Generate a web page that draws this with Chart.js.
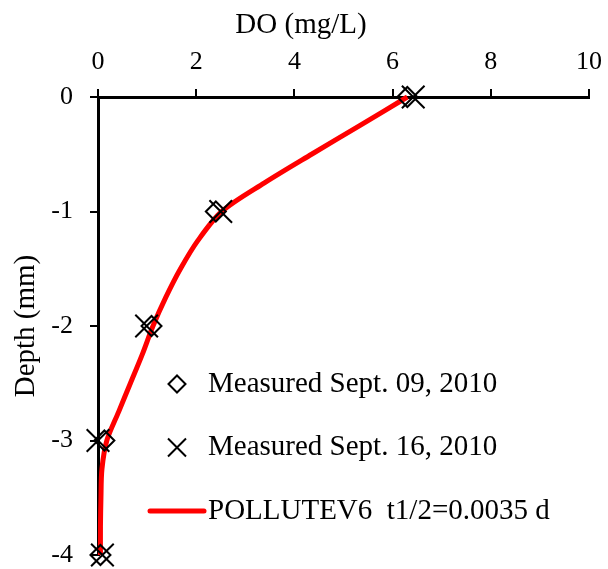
<!DOCTYPE html>
<html>
<head>
<meta charset="utf-8">
<script src="https://cdn.jsdelivr.net/npm/chart.js@4.4.1/dist/chart.umd.min.js"></script>
<style>
  html, body { margin: 0; padding: 0; background: #fff; }
  canvas { display: block; }
</style>
</head>
<body>
<canvas id="chart" width="608" height="569"></canvas>
<script>
// measured DO profiles (mg/L) against depth (mm)
const sep09Depth = [0, -1, -2, -3, -4];
const sep09DO = [6.3, 2.4, 1.09, 0.13, 0.05];
const sep16Depth = [0, -1, -2, -3, -4];
const sep16DO = [6.42, 2.5, 0.99, 0.0, 0.09];

// POLLUTEV6 model curve
const modelDepth = [0, -0.25, -0.5, -0.75, -1, -1.25, -1.5, -1.75, -2, -2.25, -2.5, -2.75, -3, -3.25, -3.5, -3.75, -4];
const modelDO = [6.3, 5.33, 4.35, 3.39, 2.52, 2.04, 1.68, 1.38, 1.12, 0.9, 0.66, 0.42, 0.18, 0.08, 0.06, 0.05, 0.05];

const labels = ["Measured Sept. 09, 2010", "Measured Sept. 16, 2010", "POLLUTEV6  t1/2=0.0035 d"];
const xTitle = "DO (mg/L)";
const yTitle = "Depth (mm)";

const toPoints = (xs, ys) => xs.map((x, i) => ({ x: x, y: ys[i] }));
const serif = '"Liberation Serif", "Times New Roman", serif';

// x axis title sits a bit left of the axis centre, so draw it here
const topTitle = {
  id: "topTitle",
  afterDraw(chart) {
    const ctx = chart.ctx;
    ctx.save();
    ctx.font = "29px " + serif;
    ctx.fillStyle = "#000";
    ctx.textAlign = "center";
    ctx.textBaseline = "middle";
    ctx.fillText(xTitle, 301, 25);
    ctx.restore();
  },
};

// legend drawn inside the plot, one entry per row
const inlineLegend = {
  id: "inlineLegend",
  afterDatasetsDraw(chart) {
    const ctx = chart.ctx;
    ctx.save();
    ctx.font = "29px " + serif;
    ctx.textBaseline = "middle";
    ctx.textAlign = "left";
    chart.data.datasets.forEach((ds, i) => {
      const y = 384 + i * 63.5;
      const mx = 177;
      ctx.strokeStyle = ds.borderColor;
      if (ds.pointStyle === "rectRot") {
        const r = 8.5;
        ctx.lineWidth = 2;
        ctx.beginPath();
        ctx.moveTo(mx - r, y);
        ctx.lineTo(mx, y - r);
        ctx.lineTo(mx + r, y);
        ctx.lineTo(mx, y + r);
        ctx.closePath();
        ctx.stroke();
      } else if (ds.pointStyle === "crossRot") {
        const h = 9;
        ctx.lineWidth = 2;
        ctx.beginPath();
        ctx.moveTo(mx - h, y - h);
        ctx.lineTo(mx + h, y + h);
        ctx.moveTo(mx + h, y - h);
        ctx.lineTo(mx - h, y + h);
        ctx.stroke();
      } else {
        ctx.lineWidth = 5;
        ctx.lineCap = "round";
        ctx.beginPath();
        ctx.moveTo(150, y);
        ctx.lineTo(204, y);
        ctx.stroke();
      }
      ctx.fillStyle = "#000";
      ctx.fillText(ds.label, 208, y);
    });
    ctx.restore();
  },
};

new Chart(document.getElementById("chart"), {
  type: "scatter",
  data: {
    datasets: [
      {
        label: labels[0],
        data: toPoints(sep09DO, sep09Depth),
        pointStyle: "rectRot",
        pointRadius: 10,
        pointBorderWidth: 2,
        borderColor: "#000",
        backgroundColor: "rgba(0,0,0,0)",
        clip: false,
      },
      {
        label: labels[1],
        data: toPoints(sep16DO, sep16Depth),
        pointStyle: "crossRot",
        pointRadius: 16,
        pointBorderWidth: 2,
        borderColor: "#000",
        backgroundColor: "rgba(0,0,0,0)",
        clip: false,
      },
      {
        label: labels[2],
        data: toPoints(modelDO, modelDepth),
        showLine: true,
        pointRadius: 0,
        borderColor: "#ff0000",
        borderWidth: 5,
        tension: 0.3,
        clip: false,
      },
    ],
  },
  options: {
    responsive: false,
    animation: false,
    devicePixelRatio: 1,
    layout: { autoPadding: false, padding: { left: 0, top: 0, right: 19, bottom: 14 } },
    plugins: {
      legend: { display: false },
      tooltip: { enabled: false },
    },
    scales: {
      x: {
        type: "linear",
        position: "top",
        min: 0,
        max: 10,
        ticks: {
          stepSize: 2,
          color: "#000",
          font: { family: serif, size: 26 },
          padding: 11,
        },
        grid: {
          drawOnChartArea: false,
          color: "#000",
          lineWidth: 2,
          tickLength: 8,
        },
        border: { display: true, color: "#000", width: 3 },
        afterFit(scale) {
          scale.height = 97;
          scale.paddingLeft = 0;
          scale.paddingRight = 0;
        },
      },
      y: {
        type: "linear",
        min: -4,
        max: 0,
        ticks: {
          stepSize: 1,
          color: "#000",
          font: { family: serif, size: 26 },
          padding: 17,
        },
        grid: {
          drawOnChartArea: false,
          color: "#000",
          lineWidth: 2,
          tickLength: 8,
        },
        border: { display: true, color: "#000", width: 3 },
        title: {
          display: true,
          text: yTitle,
          color: "#000",
          font: { family: serif, size: 29 },
          padding: { top: 9, bottom: 0 },
        },
        afterFit(scale) {
          scale.width = 98;
          scale.paddingTop = 0;
          scale.paddingBottom = 0;
        },
      },
    },
  },
  plugins: [inlineLegend, topTitle],
});
</script>
</body>
</html>
